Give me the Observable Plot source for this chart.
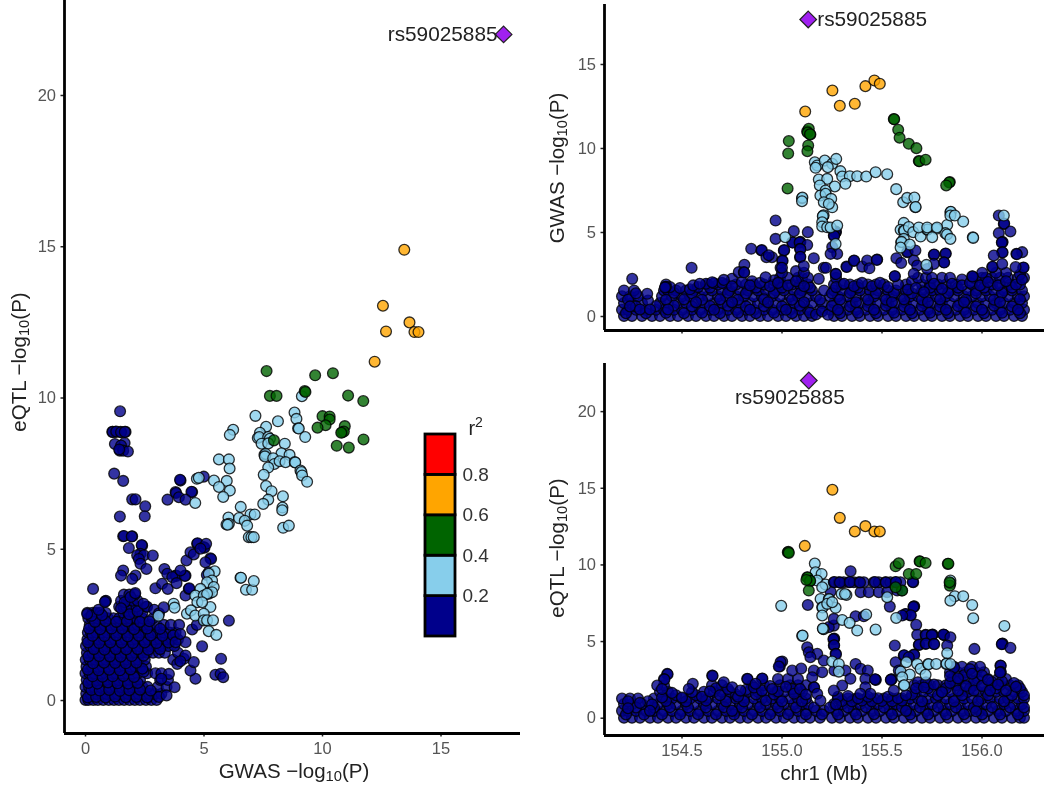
<!DOCTYPE html>
<html><head><meta charset="utf-8">
<script src="https://cdn.jsdelivr.net/npm/d3@7"></script>
<script src="https://cdn.jsdelivr.net/npm/@observablehq/plot@0.6"></script>
<style>
html,body{margin:0;padding:0;background:#fff}
#page{position:relative;width:1050px;height:793px;overflow:hidden;font-family:"Liberation Sans",Arial,sans-serif;filter:blur(.35px)}
#page svg{position:absolute;background:transparent;overflow:visible}
.t{position:absolute;font-size:20.5px;color:#222;white-space:nowrap;transform:translate(-50%,-50%);line-height:1}
.t.v{transform:translate(-50%,-50%) rotate(-90deg)}
.t sub{font-size:.72em;line-height:0;vertical-align:-.25em}
</style></head><body><div id="page"></div>
<script>
const snp = "rs59025885";
const colors = {blue:"#00008b", sky:"#87ceeb", green:"#006400", orange:"#ffa500", red:"#ff0000", lead:"#a020f0"};
const r2Breaks = [0,0.2,0.4,0.6,0.8,1];
const r2Colors = [colors.blue,colors.sky,colors.green,colors.orange,colors.red];
const r2Ticks = [0.2,0.4,0.6,0.8];
const xTicksA = [0,5,10,15], yTicksA = [0,5,10,15,20];
const xTicksMb = [154.5,155,155.5,156];
const yTicksB = [0,5,10,15], yTicksC = [0,5,10,15,20];

// scatter: GWAS -log10P (x) vs eQTL -log10P (y)
const aLead = [[17.64,22.02]];
const aOrange = [[12.2,11.2],[12.55,13.05],[12.68,12.2],[13.45,14.9],[13.67,12.5],[13.88,12.18],[14.05,12.18]];
const aGreen = [[7.64,10.89],[9.69,10.75],[10.44,10.82],[7.78,10.07],[8.06,10.07],[9.25,10.23],[9.28,10.2],[11.08,10.08],[11.72,9.9],[10.0,9.4],[10.3,9.39],[10.3,9.29],[10.13,9.1],[9.79,9.02],[10.94,9.07],[10.83,8.87],[10.9,8.89],[10.79,8.85],[11.73,8.63],[10.6,8.42],[11.11,8.36],[7.95,8.6]];
const aSky = [[7.17,9.41],[8.12,9.23],[8.82,9.52],[8.9,9.31],[8.97,9.0],[9.0,8.99],[9.27,8.71],[9.13,10.06],[6.23,8.95],[6.09,8.78],[7.62,9.05],[7.36,8.85],[7.27,8.68],[7.33,8.71],[7.71,8.71],[7.78,8.65],[7.43,8.49],[7.71,8.5],[8.41,8.49],[7.55,8.12],[7.6,8.15],[7.57,8.07],[8.27,8.17],[8.61,8.12],[7.92,8.01],[7.97,7.82],[8.19,7.91],[8.44,7.88],[7.71,7.7],[8.83,7.88],[8.85,7.87],[9.07,7.6],[9.11,7.55],[9.14,7.44],[9.35,7.23],[7.52,7.46],[5.63,7.97],[6.05,7.97],[6.08,7.67],[5.42,7.27],[5.96,7.26],[5.63,7.06],[6.09,6.94],[5.81,6.73],[7.62,7.09],[7.85,6.92],[7.71,6.64],[7.5,6.5],[8.33,6.75],[8.31,6.38],[8.3,6.29],[6.55,6.4],[6.03,6.05],[6.96,6.15],[7.14,6.15],[6.48,6.03],[6.72,5.94],[6.05,5.84],[5.95,5.82],[6.0,5.81],[6.82,5.78],[8.34,5.71],[8.58,5.78],[6.89,5.4],[7.0,5.4],[7.1,5.4],[6.54,4.06],[6.56,4.06],[6.77,3.66],[7.03,3.66],[7.1,3.95],[5.45,4.27],[5.2,4.19],[5.34,3.97],[5.13,3.91],[5.41,3.75],[4.85,3.69],[5.2,3.53],[5.34,3.58],[4.63,3.47],[4.99,3.47],[5.13,3.53],[4.72,3.25],[5.27,3.09],[4.92,3.25],[4.28,2.87],[4.45,2.98],[4.63,2.81],[4.99,2.87],[4.99,2.65],[5.13,2.65],[5.38,2.65],[5.2,2.29],[5.52,2.17],[3.72,3.2],[3.76,3.07],[3.08,2.8],[4.63,6.53],[4.7,7.33],[4.78,7.36]];
const aBlue = [[1.46,9.56],[1.13,8.88],[1.27,8.88],[1.48,8.88],[1.69,8.88],[1.15,8.88],[1.3,8.89],[1.5,8.87],[1.66,8.88],[1.24,8.48],[1.65,8.51],[1.5,8.43],[1.45,8.26],[1.59,8.26],[1.79,8.23],[1.42,8.3],[1.21,7.5],[1.59,7.26],[1.97,6.65],[2.11,6.65],[2.52,6.42],[2.5,6.09],[1.45,6.08],[3.46,6.64],[3.8,6.89],[3.82,6.86],[4.01,7.27],[3.99,7.3],[4.5,6.89],[4.47,6.9],[3.94,6.72],[4.22,6.64],[4.99,7.4],[1.59,5.43],[1.62,5.44],[1.97,5.43],[1.95,5.42],[1.83,5.04],[2.39,5.12],[2.37,5.14],[2.32,4.85],[2.18,4.8],[2.46,4.8],[2.25,4.68],[2.32,4.52],[2.84,4.79],[2.57,4.35],[1.59,4.3],[1.5,4.13],[2.11,4.13],[1.97,4.02],[3.33,4.35],[3.45,4.19],[3.8,4.13],[3.83,4.12],[4.22,4.13],[4.19,4.12],[3.66,4.08],[4.01,4.3],[4.26,4.63],[4.43,4.9],[4.57,4.83],[4.71,5.18],[4.73,5.2],[4.99,5.07],[5.02,5.05],[5.09,5.18],[4.85,5.02],[5.27,4.7],[5.3,4.68],[5.06,4.57],[5.2,4.24],[5.12,4.15],[0.32,3.69],[0.84,3.28],[0.86,3.3],[0.82,3.26],[0.07,2.86],[2.95,3.71],[3.23,3.86],[3.47,3.69],[3.84,3.88],[4.22,3.47],[4.36,3.69],[4.38,3.71],[3.3,3.08],[6.05,2.64],[4.92,1.79],[5.72,1.38],[5.48,0.85],[5.7,0.88],[5.81,0.77],[4.64,0.72],[4.43,0.99],[4.57,1.27],[4.15,1.38],[3.87,1.21],[4.22,1.49],[4.0,1.3],[4.22,1.93],[3.8,1.93],[4.0,2.2],[4.5,2.35],[4.7,2.5],[3.76,0.44],[3.42,0.17],[3.52,0.88],[3.2,0.72]];
const aCloud = [
 [0.02,[0,0.12,0.33,0.52,0.75,0.98,1.2,1.41,1.63,1.86,2.08,2.3,2.55,2.78,3.0]],
 [0.22,[0.03,0.22,0.44,0.68,0.89,1.13,1.35,1.57,1.79,2.02,2.24,2.47,2.69,2.9,3.2]],
 [0.45,[0,0.15,0.36,0.6,0.83,1.04,1.27,1.5,1.71,1.95,2.17,2.4,2.62,3.05,3.42]],
 [0.68,[0.05,0.26,0.48,0.71,0.94,1.18,1.4,1.62,1.85,2.06,2.3,3.15,3.48]],
 [0.9,[0,0.17,0.39,0.62,0.85,1.07,1.3,1.53,1.76,1.98,2.2,2.6,2.95,3.2]],
 [1.12,[0.04,0.28,0.5,0.73,0.96,1.2,1.42,1.65,1.88,2.1,2.3,2.55]],
 [1.35,[0.01,0.18,0.41,0.64,0.87,1.1,1.33,1.55,1.78,2.0,2.23,2.5,3.7]],
 [1.58,[0.06,0.3,0.53,0.75,0.98,1.22,1.45,1.67,1.9,2.12,2.35,2.6,2.85,3.1,3.35,3.9]],
 [1.8,[0.02,0.2,0.43,0.66,0.89,1.12,1.36,1.58,1.8,2.03,2.26,2.5,2.75,3.0,3.25,3.5,3.75]],
 [2.02,[0.08,0.32,0.55,0.78,1.0,1.24,1.47,1.7,1.93,2.16,2.4,2.65,2.9,3.15,3.4,3.65,3.9]],
 [2.25,[0.1,0.23,0.46,0.69,0.92,1.15,1.38,1.6,1.83,2.07,2.3,2.55,2.8,3.05,3.3,3.55,3.8]],
 [2.5,[0.18,0.35,0.58,0.81,1.04,1.27,1.5,1.73,1.96,2.2,2.45,2.7,3.0,3.3,3.6,3.95]],
 [2.72,[0.12,0.27,0.5,0.72,0.95,1.18,1.42,1.65,1.88,2.12,2.4,2.85]],
 [2.9,[0.08,0.3,0.45,0.62,0.85,1.6,1.8,2.05,2.4]],
 [3.1,[1.42,1.6,1.72,1.95,2.15,2.55]],
 [3.3,[1.5,1.75,1.98,2.2]],
 [3.5,[1.62,1.85,2.08]]
];
const aFill = [[0.1,0.1],[0.45,0.12],[0.85,0.1],[1.25,0.13],[1.7,0.11],[2.15,0.12],[2.6,0.1],[3.1,0.12],[0.25,0.35],[0.6,0.33],[1.0,0.35],[1.45,0.32],[1.85,0.34],[2.3,0.36],[2.75,0.33],[0.12,0.58],[0.5,0.56],[0.95,0.6],[1.35,0.57],[1.8,0.56],[2.2,0.58],[0.3,0.8],[0.72,0.79],[1.15,0.8],[1.6,0.81],[2.05,0.78],[2.45,0.95],[0.1,1.02],[0.55,1.0],[1.0,1.02],[1.45,1.0],[1.9,1.03],[2.4,1.05],[0.32,1.23],[0.78,1.25],[1.25,1.24],[1.7,1.23],[2.15,1.25],[0.12,1.46],[0.58,1.47],[1.03,1.46],[1.48,1.45],[1.95,1.47],[2.45,1.48],[0.35,1.7],[0.8,1.68],[1.28,1.7],[1.72,1.69],[2.2,1.7],[2.65,1.68],[3.15,1.7],[0.1,1.92],[0.58,1.9],[1.05,1.92],[1.52,1.91],[2.0,1.9],[2.5,1.92],[3.0,1.9],[3.5,1.92],[0.3,2.14],[0.8,2.13],[1.3,2.15],[1.78,2.12],[2.25,2.14],[2.75,2.15],[3.25,2.14],[3.7,2.15],[0.15,2.38],[0.62,2.36],[1.1,2.38],[1.55,2.37],[2.05,2.36],[2.6,2.38],[3.15,2.37],[0.4,2.6],[0.85,2.62],[1.3,2.6],[1.75,2.62],[2.3,2.6],[2.7,2.62],[0.25,2.8],[0.7,2.82],[1.85,2.85],[2.2,2.95],[2.6,3.1],[2.9,3.0],[3.1,2.88],[1.65,3.25],[1.9,3.42],[2.45,3.2],[1.5,3.05],[0.55,3.0],[2.1,3.55]];

// regional plot: chr1 Mb (x) vs GWAS -log10P (y)
const bLead = [[155.131,17.68]];
const bOrange = [[155.116,12.2],[155.252,13.45],[155.289,12.54],[155.364,12.66],[155.417,13.71],[155.462,14.05],[155.489,13.85]];
const bGreen = [[155.034,10.44],[155.031,9.7],[155.028,7.62],[155.126,11.03],[155.134,11.17],[155.128,10.95],[155.142,10.83],[155.14,10.85],[155.131,10.18],[155.127,9.84],[155.559,11.75],[155.561,11.74],[155.581,11.11],[155.588,10.64],[155.634,10.28],[155.672,10.02],[155.684,9.25],[155.687,9.24],[155.718,9.33],[155.839,8.0],[155.836,7.98],[155.821,7.8]];
const bSky = [[155.164,9.18],[155.176,8.99],[155.168,8.85],[155.214,9.28],[155.251,9.09],[155.271,9.38],[155.229,8.89],[155.292,8.65],[155.301,8.33],[155.339,8.35],[155.317,7.9],[155.376,8.35],[155.421,8.33],[155.468,8.59],[155.526,8.47],[155.571,7.58],[155.606,6.8],[155.626,7.06],[155.662,7.08],[155.667,6.5],[155.668,6.52],[155.184,8.15],[155.226,8.19],[155.189,7.8],[155.264,7.74],[155.218,7.5],[155.192,7.2],[155.218,7.3],[155.246,7.0],[155.209,6.8],[155.251,6.5],[155.234,6.7],[155.1,7.04],[155.102,7.08],[155.1,6.86],[155.206,6.0],[155.208,6.03],[155.204,5.97],[155.201,5.61],[155.201,5.36],[155.226,5.31],[155.243,5.3],[155.276,5.41],[155.268,4.32],[155.609,5.57],[155.593,5.16],[155.609,5.12],[155.612,5.1],[155.634,5.32],[155.656,5.02],[155.693,4.76],[155.726,5.16],[155.728,5.18],[155.772,5.22],[155.751,4.72],[155.826,5.45],[155.817,4.96],[155.825,4.88],[155.842,4.62],[155.609,4.62],[155.596,4.42],[155.598,4.44],[155.639,4.28],[155.593,4.1],[155.722,3.07],[155.842,6.21],[155.844,6.23],[155.842,6.01],[155.864,6.01],[155.906,5.65],[155.954,4.72],[155.956,4.68],[156.109,6.01],[155.016,4.72],[155.684,5.3],[155.726,5.3],[155.775,5.3]];
const bBlue = [[154.968,5.71],[155.059,5.08],[155.129,5.02],[154.968,4.62],[154.95,3.53],[155.009,3.93],[155.011,3.95],[155.051,4.42],[155.053,4.4],[155.09,4.42],[155.092,4.44],[155.088,4.4],[155.126,4.26],[155.09,4.03],[155.092,4.01],[155.159,3.47],[155.001,3.33],[155.003,3.31],[155.09,3.53],[155.092,3.55],[155.109,3.0],[154.993,2.9],[155.0,2.9],[155.209,2.9],[155.184,2.24],[155.268,5.02],[155.27,5.05],[155.266,5.0],[155.259,4.82],[155.261,4.8],[155.251,4.13],[155.276,3.73],[155.243,3.73],[155.22,2.9],[155.268,2.54],[155.27,2.52],[155.322,2.97],[155.324,2.95],[155.359,3.31],[155.361,3.33],[155.401,2.97],[155.426,3.33],[155.437,2.87],[155.476,3.39],[155.474,3.37],[155.564,2.4],[155.572,3.47],[155.596,3.19],[155.626,3.83],[155.628,3.85],[155.667,3.93],[155.659,3.33],[155.676,3.03],[155.659,2.54],[155.759,3.67],[155.761,3.69],[155.817,3.73],[155.819,3.75],[155.809,3.23],[155.811,3.21],[155.759,3.13],[155.726,2.83],[156.084,6.01],[156.109,5.51],[156.111,5.53],[156.142,5.06],[156.084,4.96],[156.101,4.42],[156.103,4.44],[156.099,4.4],[156.101,3.83],[156.103,3.81],[156.059,3.63],[156.201,3.83],[156.172,3.73],[156.174,3.71],[156.206,2.9],[156.208,2.92],[156.168,2.94],[156.051,2.94],[156.053,2.96],[156.101,3.13],[156.001,2.6],[155.951,2.4],[155.953,2.38],[154.548,2.9],[154.251,2.24],[154.846,4.03],[154.897,3.93],[154.899,3.95],[154.922,3.53],[154.934,3.65],[154.812,3.08],[154.784,2.64],[154.556,1.85],[154.589,1.95],[154.709,2.18],[154.651,2.04],[154.417,1.75],[154.419,1.77],[154.415,1.73],[154.326,1.35],[154.809,2.64],[154.811,2.62],[154.918,2.34],[155.564,2.4]];
const bCloud = [
 [0.03,[154.21,154.25,154.30,154.35,154.39,154.44,154.48,154.53,154.57,154.62,154.66,154.71,154.75,154.80,154.84,154.89,154.93,154.98,155.02,155.07,155.11,155.15,155.26,155.30,155.35,155.39,155.44,155.48,155.53,155.57,155.62,155.66,155.71,155.75,155.80,155.84,155.89,155.93,155.98,156.02,156.07,156.11,156.16,156.20]],
 [0.4,[154.20,154.23,154.27,154.32,154.37,154.41,154.46,154.50,154.55,154.59,154.64,154.68,154.73,154.77,154.82,154.86,154.91,154.95,155.00,155.04,155.09,155.13,155.19,155.24,155.28,155.33,155.37,155.42,155.46,155.51,155.55,155.60,155.64,155.69,155.73,155.78,155.82,155.87,155.91,155.96,156.00,156.05,156.09,156.14,156.18,156.21]],
 [0.8,[154.21,154.25,154.30,154.39,154.43,154.48,154.52,154.57,154.61,154.66,154.70,154.75,154.79,154.84,154.88,154.93,154.97,155.02,155.06,155.11,155.15,155.20,155.26,155.30,155.35,155.39,155.44,155.48,155.53,155.57,155.62,155.66,155.71,155.75,155.80,155.84,155.89,155.93,155.98,156.02,156.07,156.11,156.16,156.20]],
 [1.2,[154.20,154.24,154.28,154.40,154.45,154.50,154.54,154.59,154.63,154.68,154.72,154.77,154.81,154.86,154.90,154.95,154.99,155.04,155.08,155.13,155.17,155.24,155.28,155.33,155.37,155.42,155.46,155.51,155.55,155.60,155.64,155.68,155.73,155.77,155.82,155.86,155.91,155.95,156.00,156.04,156.09,156.13,156.18,156.21]],
 [1.55,[154.21,154.26,154.41,154.43,154.47,154.52,154.56,154.61,154.65,154.70,154.74,154.79,154.83,154.88,154.92,154.97,155.01,155.06,155.10,155.15,155.26,155.30,155.35,155.39,155.44,155.48,155.53,155.57,155.62,155.70,155.75,155.79,155.84,155.88,155.93,155.97,156.02,156.06,156.11,156.15,156.20]],
 [1.9,[154.42,154.63,154.68,154.72,154.77,154.82,154.86,154.91,154.96,155.0,155.05,155.09,155.13,155.26,155.30,155.34,155.38,155.43,155.47,155.51,155.70,155.74,155.78,155.82,155.87,155.95,156.00,156.05,156.09,156.14,156.19]],
 [2.3,[154.99,155.03,155.08,155.10,155.13,155.27,155.80,155.84,155.96,156.0,156.05,156.09,156.13,156.18,156.21]]
];
const bFill = [[154.22,0.2],[154.27,0.6],[154.32,0.2],[154.37,0.62],[154.42,0.22],[154.46,0.65],[154.51,0.2],[154.55,0.6],[154.6,0.22],[154.64,0.62],[154.69,0.2],[154.73,0.64],[154.78,0.22],[154.82,0.6],[154.87,0.2],[154.91,0.62],[154.96,0.22],[155.0,0.6],[155.05,0.2],[155.09,0.64],[155.14,0.22],[155.17,0.12],[155.2,0.3],[155.23,0.1],[155.25,0.62],[155.29,0.2],[155.34,0.6],[155.38,0.22],[155.43,0.62],[155.47,0.2],[155.52,0.64],[155.56,0.22],[155.61,0.6],[155.65,0.2],[155.7,0.62],[155.74,0.22],[155.79,0.6],[155.83,0.2],[155.88,0.62],[155.92,0.22],[155.97,0.6],[156.01,0.2],[156.06,0.64],[156.1,0.22],[156.15,0.6],[156.19,0.2],[154.23,1.0],[154.27,1.38],[154.33,0.95],[154.42,1.0],[154.46,1.4],[154.51,1.02],[154.55,1.38],[154.6,1.0],[154.64,1.72],[154.69,1.02],[154.73,1.4],[154.78,1.0],[154.82,1.38],[154.87,1.72],[154.91,1.02],[154.96,1.4],[155.0,1.72],[155.05,1.0],[155.09,1.38],[155.14,1.72],[155.19,1.0],[155.21,1.55],[155.25,1.38],[155.29,1.0],[155.34,1.4],[155.38,1.72],[155.43,1.0],[155.47,1.38],[155.52,1.0],[155.56,1.4],[155.61,1.02],[155.65,1.38],[155.7,1.0],[155.74,1.72],[155.79,1.02],[155.83,1.4],[155.88,1.72],[155.92,1.0],[155.97,1.38],[156.01,1.72],[156.06,1.0],[156.1,1.4],[156.15,1.72],[156.19,1.02],[155.07,2.7],[155.0,2.6],[155.11,2.6],[154.96,2.15],[154.85,2.1],[154.75,2.25],[155.62,1.9],[155.65,2.1],[155.68,2.3],[155.72,2.3],[155.75,2.3],[155.9,2.2],[156.02,2.3],[156.12,2.6],[156.07,2.6],[156.19,2.5],[154.44,1.75],[154.49,1.7],[154.54,1.62],[154.58,1.75],[154.62,1.95],[154.66,1.98],[154.7,2.0],[154.75,1.8],[154.8,2.05],[154.84,1.85],[154.89,2.0],[154.94,1.8],[154.98,2.0],[155.03,1.85],[155.07,2.1],[155.11,1.8],[155.27,1.75],[155.31,1.95],[155.36,1.8],[155.4,2.0],[155.45,1.8],[155.49,2.0],[155.53,1.75],[155.58,1.9],[155.63,1.6],[155.67,1.7],[155.71,1.45],[155.76,1.95],[155.8,1.65],[155.85,1.95],[155.9,1.85],[155.94,2.0],[155.99,1.85],[156.03,2.05],[156.08,1.85],[156.12,2.1],[156.17,1.9],[156.2,2.2],[154.24,0.6],[154.29,0.42],[154.34,0.42],[154.43,0.42],[154.57,0.85],[154.66,0.4],[154.75,0.85],[154.84,0.4],[154.93,0.85],[155.02,0.4],[155.11,0.85],[155.28,0.4],[155.37,0.85],[155.46,0.4],[155.55,0.85],[155.64,0.4],[155.73,0.85],[155.82,0.4],[155.91,0.85],[156.0,0.4],[156.09,0.85],[156.18,0.4]];

// regional plot: chr1 Mb (x) vs eQTL -log10P (y)
const cLead = [[155.134,22.03]];
const cOrange = [[155.114,11.24],[155.252,14.9],[155.289,13.07],[155.364,12.18],[155.417,12.53],[155.462,12.18],[155.489,12.18]];
const cGreen = [[155.029,10.83],[155.032,10.85],[155.034,10.78],[155.126,9.2],[155.128,9.18],[155.139,8.94],[155.141,8.96],[155.134,8.33],[155.122,9.02],[155.568,9.91],[155.584,10.11],[155.634,9.41],[155.671,9.41],[155.688,10.24],[155.69,10.22],[155.718,10.13],[155.829,10.07],[155.832,10.08],[155.839,8.65],[155.838,8.87],[155.601,8.33],[155.568,8.54]];
const cSky = [[154.996,7.33],[155.164,10.09],[155.168,9.52],[155.198,9.41],[155.176,8.98],[155.218,8.72],[155.201,8.54],[155.193,7.78],[155.234,7.78],[155.236,7.76],[155.201,7.24],[155.203,7.22],[155.268,7.2],[155.201,6.7],[155.226,7.46],[155.251,7.57],[155.298,8.11],[155.322,8.04],[155.315,8.1],[155.301,6.41],[155.338,6.22],[155.376,5.72],[155.468,5.78],[155.421,6.76],[155.206,5.83],[155.208,5.81],[155.204,5.85],[155.526,7.89],[155.571,6.54],[155.101,5.37],[155.103,5.39],[155.842,8.98],[155.842,8.8],[155.864,7.96],[155.906,7.96],[155.842,7.67],[155.951,7.39],[155.956,6.52],[156.112,6.02],[155.826,4.24],[155.251,3.7],[155.284,3.54],[155.284,3.04],[155.622,3.65],[155.593,3.04],[155.639,2.85],[155.601,2.67],[155.609,2.13],[155.611,2.15],[155.676,3.54],[155.693,3.22],[155.718,2.83],[155.731,3.54],[155.733,3.52],[155.771,3.54],[155.821,3.54],[155.823,3.56],[155.842,3.54]];
const cBlueTop = [[155.259,8.87],[155.284,8.87],[155.309,8.87],[155.334,8.87],[155.359,8.87],[155.384,8.87],[155.409,8.87],[155.459,8.87],[155.484,8.87],[155.517,8.87],[155.542,8.87],[155.567,8.87],[155.592,8.87],[155.656,8.87],[155.262,8.88],[155.29,8.86],[155.34,8.88],[155.39,8.86],[155.465,8.88],[155.52,8.86],[155.57,8.88],[155.654,8.89]];
const cBlue = [[155.243,8.26],[155.393,8.22],[155.434,8.22],[155.484,8.22],[155.526,8.22],[155.576,8.33],[155.599,8.33],[155.343,9.59],[155.129,7.39],[155.539,7.28],[155.659,7.28],[155.661,7.3],[155.657,7.26],[155.617,6.8],[155.619,6.78],[155.642,6.7],[155.644,6.72],[155.601,6.7],[155.671,6.09],[155.368,6.65],[155.409,6.65],[155.259,6.04],[155.234,5.94],[155.259,6.48],[155.259,5.17],[155.261,5.19],[155.257,5.15],[155.259,4.74],[155.261,4.76],[155.268,4.2],[155.27,4.18],[155.564,4.74],[155.676,5.44],[155.718,5.44],[155.72,5.42],[155.751,5.44],[155.753,5.46],[155.749,5.42],[155.809,5.44],[155.811,5.42],[155.807,5.46],[155.842,5.28],[155.684,4.78],[155.686,4.8],[155.718,4.85],[155.72,4.87],[155.759,4.85],[155.761,4.83],[155.826,4.74],[155.962,4.52],[156.101,4.85],[156.103,4.87],[156.099,4.83],[156.142,4.59],[155.126,4.63],[155.134,4.3],[155.176,4.2],[155.142,3.98],[155.001,3.7],[154.989,3.37],[155.051,3.11],[155.096,3.24],[155.159,3.11],[155.151,2.67],[155.201,3.0],[155.209,3.76],[155.262,3.11],[155.317,3.11],[155.368,3.54],[155.393,3.22],[155.429,3.11],[155.342,2.57],[155.417,2.57],[155.467,2.52],[155.469,2.5],[155.465,2.54],[155.546,2.52],[155.548,2.54],[155.544,2.5],[155.568,3.65],[155.609,4.09],[155.611,4.11],[155.659,4.15],[155.661,4.13],[155.634,3.98],[155.584,3.11],[156.092,3.44],[156.094,3.42],[156.092,3.0],[156.094,3.02],[156.09,2.98],[155.159,2.02],[155.161,2.0],[155.176,1.59],[155.192,1.15],[155.301,2.13],[155.259,1.8],[155.417,2.02],[155.442,1.59],[155.559,1.8],[155.392,1.59],[154.426,2.89],[154.428,2.87],[154.41,2.55],[154.412,2.53],[154.376,2.13],[154.4,1.9],[154.554,2.24],[154.534,1.91],[154.651,2.78],[154.653,2.76],[154.709,2.35],[154.751,2.02],[154.826,2.57],[154.828,2.55],[154.9,2.57],[154.902,2.59],[154.868,2.25],[154.792,1.8],[154.951,1.91],[154.993,3.66],[154.984,3.37]];
const cCloud = [
 [0.03,[154.21,154.25,154.29,154.34,154.38,154.43,154.47,154.52,154.56,154.61,154.65,154.70,154.74,154.79,154.83,154.88,154.92,154.97,155.01,155.06,155.10,155.14,155.19,155.25,155.29,155.34,155.38,155.43,155.47,155.52,155.56,155.61,155.65,155.70,155.74,155.79,155.83,155.88,155.92,155.97,156.01,156.06,156.10,156.15,156.19,156.21]],
 [0.48,[154.20,154.23,154.27,154.32,154.36,154.41,154.45,154.50,154.54,154.59,154.63,154.68,154.72,154.77,154.81,154.86,154.90,154.95,154.99,155.04,155.08,155.12,155.17,155.21,155.27,155.31,155.36,155.40,155.45,155.49,155.54,155.58,155.63,155.67,155.72,155.76,155.81,155.85,155.90,155.94,155.99,156.03,156.08,156.12,156.17,156.21]],
 [0.92,[154.21,154.25,154.30,154.38,154.43,154.47,154.52,154.56,154.61,154.65,154.70,154.74,154.79,154.83,154.88,154.92,154.97,155.01,155.06,155.10,155.13,155.26,155.30,155.35,155.39,155.44,155.48,155.53,155.57,155.62,155.66,155.71,155.75,155.80,155.84,155.89,155.93,155.98,156.02,156.07,156.11,156.16,156.20]],
 [1.28,[154.20,154.24,154.28,154.36,154.41,154.45,154.50,154.54,154.59,154.63,154.68,154.72,154.77,154.81,154.86,154.90,154.95,154.99,155.04,155.08,155.12,155.28,155.33,155.37,155.42,155.46,155.51,155.55,155.60,155.64,155.68,155.73,155.77,155.82,155.86,155.91,155.95,156.00,156.04,156.09,156.13,156.18,156.21]],
 [1.72,[154.39,154.43,154.61,154.66,154.70,154.74,154.83,154.88,154.92,154.97,155.01,155.06,155.10,155.67,155.71,155.75,155.80,155.84,155.89,155.93,155.98,156.02,156.07,156.11,156.16,156.20]],
 [2.15,[154.41,154.65,154.70,154.85,154.91,154.99,155.04,155.08,155.12,155.66,155.70,155.74,155.78,155.82,155.87,155.91,155.96,156.0,156.05,156.09,156.14,156.18]],
 [2.55,[154.98,155.03,155.08,155.85,155.89,155.93,155.98,156.03,156.08,156.12]],
 [3.0,[155.84,155.88,155.92,155.97,156.01]],
 [3.35,[155.86,155.90,155.95,155.99]]
];
const cFill = [[154.22,0.25],[154.27,0.7],[154.31,0.24],[154.36,0.7],[154.4,0.25],[154.44,0.72],[154.49,0.24],[154.53,0.7],[154.58,0.26],[154.62,0.7],[154.67,0.25],[154.71,0.72],[154.76,0.24],[154.8,0.7],[154.85,0.25],[154.89,0.72],[154.94,0.24],[154.98,0.7],[155.03,0.26],[155.07,0.7],[155.12,0.25],[155.16,0.7],[155.2,0.25],[155.24,0.7],[155.28,0.25],[155.33,0.7],[155.37,0.24],[155.42,0.72],[155.46,0.26],[155.51,0.7],[155.55,0.25],[155.6,0.72],[155.64,0.24],[155.69,0.7],[155.73,0.25],[155.78,0.72],[155.82,0.24],[155.87,0.7],[155.91,0.26],[155.96,0.7],[156.0,0.25],[156.05,0.72],[156.09,0.24],[156.14,0.7],[156.18,0.25],[156.21,0.7],[154.23,1.1],[154.33,1.1],[154.42,1.12],[154.47,1.5],[154.52,1.1],[154.57,1.5],[154.62,1.15],[154.67,1.95],[154.72,1.1],[154.77,1.55],[154.81,1.1],[154.87,1.55],[154.92,1.15],[154.96,1.55],[155.0,1.1],[155.05,1.9],[155.1,1.1],[155.3,1.12],[155.35,1.1],[155.4,1.15],[155.45,1.1],[155.5,1.12],[155.55,1.1],[155.6,1.15],[155.65,1.55],[155.7,1.1],[155.73,1.95],[155.78,1.5],[155.82,1.95],[155.86,1.1],[155.9,1.5],[155.94,1.95],[155.98,1.1],[156.03,1.5],[156.07,1.95],[156.11,1.1],[156.15,1.5],[156.19,1.95],[155.87,2.4],[155.91,2.8],[155.96,2.4],[156.0,2.8],[155.86,3.3],[155.94,3.2],[156.05,2.35],[156.1,2.4],[156.16,2.3],[155.68,2.35],[155.72,2.35],[154.23,0.65],[154.29,1.0],[154.35,0.9],[154.4,1.35],[154.45,1.65],[154.5,1.35],[154.55,1.7],[154.6,1.4],[154.64,1.75],[154.69,1.5],[154.73,1.9],[154.78,1.4],[154.82,1.85],[154.86,2.0],[154.9,1.8],[154.94,2.1],[154.98,1.75],[155.02,2.05],[155.06,1.6],[155.09,1.9],[155.12,1.55],[155.28,1.4],[155.33,1.45],[155.38,1.3],[155.43,1.4],[155.48,1.3],[155.53,1.4],[155.58,1.3],[155.62,1.5],[155.67,1.95],[155.71,2.0],[155.76,2.2],[155.8,1.7],[155.84,2.3],[155.88,1.8],[155.92,2.1],[155.96,1.8],[156.0,2.1],[156.04,1.8],[156.08,2.2],[156.12,1.8],[156.17,2.05],[156.21,1.5],[155.84,2.75],[155.88,2.6],[155.95,2.9],[156.03,2.5],[155.97,0.45],[155.62,0.48],[155.27,0.9],[154.75,0.48],[154.34,0.48]];

const expand = rows => rows.flatMap(([y,xs]) => xs.map(x => [x,y]));
const font = '"Liberation Sans",Arial,sans-serif';
const tickColor = "#555";
const dots = (arr,fill) => Plot.dot(arr,{x:d=>d[0],y:d=>d[1],r:5.4,fill,fillOpacity:0.8,stroke:"#000",strokeOpacity:0.8,strokeWidth:1.3});
const lead = arr => Plot.dot(arr,{x:d=>d[0],y:d=>d[1],r:7.5,symbol:"diamond2",fill:colors.lead,stroke:"#222",strokeWidth:1.2});
const label = (arr,o) => Plot.text(arr,{x:d=>d[0],y:d=>d[1],text:()=>snp,fontSize:20.8,fill:"#222",...o});

function panel({left,top,width,height,ml,mr,mt,mb,xd,yd,xt,yt,xFormat,layers}){
  const p = Plot.plot({
    width,height,marginLeft:ml,marginRight:mr,marginTop:mt,marginBottom:mb,
    style:{fontFamily:font,background:"transparent"},
    x:{domain:xd,label:null},y:{domain:yd,label:null},
    marks:[
      ...layers,
      Plot.axisX({ticks:xt,label:null,tickSize:3.5,tickPadding:5,fontSize:16.5,color:tickColor,stroke:"#222",strokeWidth:1.5,tickFormat:xFormat}),
      Plot.axisY({ticks:yt,label:null,tickSize:3.5,tickPadding:5,fontSize:16.5,color:tickColor,stroke:"#222",strokeWidth:1.5}),
      Plot.ruleX([xd[0]],{stroke:"#000",strokeWidth:2.8}),
      Plot.ruleY([yd[0]],{stroke:"#000",strokeWidth:2.8})
    ]
  });
  p.style.left=left+"px";p.style.top=top+"px";
  document.getElementById("page").append(p);
}
const mbDomain=[154.1125,156.3125];
panel({left:0,top:0,width:525,height:793,ml:64,mr:5,mt:0,mb:60,xd:[-0.886,18.354],yd:[-1.09,23.14],xt:xTicksA,yt:yTicksA,xFormat:d=>String(d),layers:[
  dots(expand(aCloud),colors.blue),dots(aFill,colors.blue),dots(aBlue,colors.blue),dots(aSky,colors.sky),dots(aGreen,colors.green),dots(aOrange,colors.orange),lead(aLead),
  label(aLead,{textAnchor:"end",dx:-6})]});
panel({left:530,top:0,width:520,height:350,ml:74,mr:6,mt:4,mb:20,xd:mbDomain,yd:[-0.833,18.57],xt:xTicksMb,yt:yTicksB,xFormat:()=>"",layers:[
  dots(expand(bCloud),colors.blue),dots(bFill,colors.blue),dots(bBlue,colors.blue),dots(bSky,colors.sky),dots(bGreen,colors.green),dots(bOrange,colors.orange),lead(bLead),
  label(bLead,{textAnchor:"start",dx:9,dy:0})]});
panel({left:530,top:350,width:520,height:443,ml:74,mr:6,mt:13,mb:58,xd:mbDomain,yd:[-1.128,23.14],xt:xTicksMb,yt:yTicksC,xFormat:d=>d.toFixed(1),layers:[
  dots(expand(cCloud),colors.blue),dots(cFill,colors.blue),dots(cBlue,colors.blue),dots(cSky,colors.sky),dots(cBlueTop,colors.blue),dots(cGreen,colors.green),dots(cOrange,colors.orange),lead(cLead),
  label(cLead,{textAnchor:"middle",dx:-19,dy:17})]});

// r2 legend
const cells = r2Colors.map((fill,i)=>({y1:r2Breaks[i],y2:r2Breaks[i+1],fill}));
const leg = Plot.plot({width:110,height:230,marginLeft:25,marginRight:55,marginTop:14,marginBottom:14,
  style:{fontFamily:font,background:"transparent"},
  x:{domain:[0,1],axis:null},y:{domain:[0,1],axis:null},
  marks:[
    Plot.rect(cells,{x1:0,x2:1,y1:"y1",y2:"y2",fill:"fill",stroke:"#000",strokeWidth:2.8}),
    Plot.text(r2Ticks,{x:()=>1,y:d=>d,text:d=>d.toFixed(1),textAnchor:"start",dx:7,fontSize:19,fill:"#333"}),
    Plot.text(["r"],{x:()=>1,y:()=>1,text:d=>d,textAnchor:"start",dx:13,dy:-6,fontSize:20,fill:"#222"}),
    Plot.text(["2"],{x:()=>1,y:()=>1,text:d=>d,textAnchor:"start",dx:19.5,dy:-12,fontSize:14,fill:"#222"})
  ]});
leg.style.left="400px";leg.style.top="420px";
document.getElementById("page").append(leg);

const titles=[
 ["GWAS −log<sub>10</sub>(P)",294,771,false],
 ["eQTL −log<sub>10</sub>(P)",19,362,true],
 ["GWAS −log<sub>10</sub>(P)",557,168,true],
 ["eQTL −log<sub>10</sub>(P)",557,548,true],
 ["chr1 (Mb)",824,773,false]
];
for(const [h,x,y,v] of titles){
  const d=document.createElement("div");d.className="t"+(v?" v":"");d.innerHTML=h;d.style.left=x+"px";d.style.top=y+"px";
  document.getElementById("page").append(d);
}
</script></body></html>
